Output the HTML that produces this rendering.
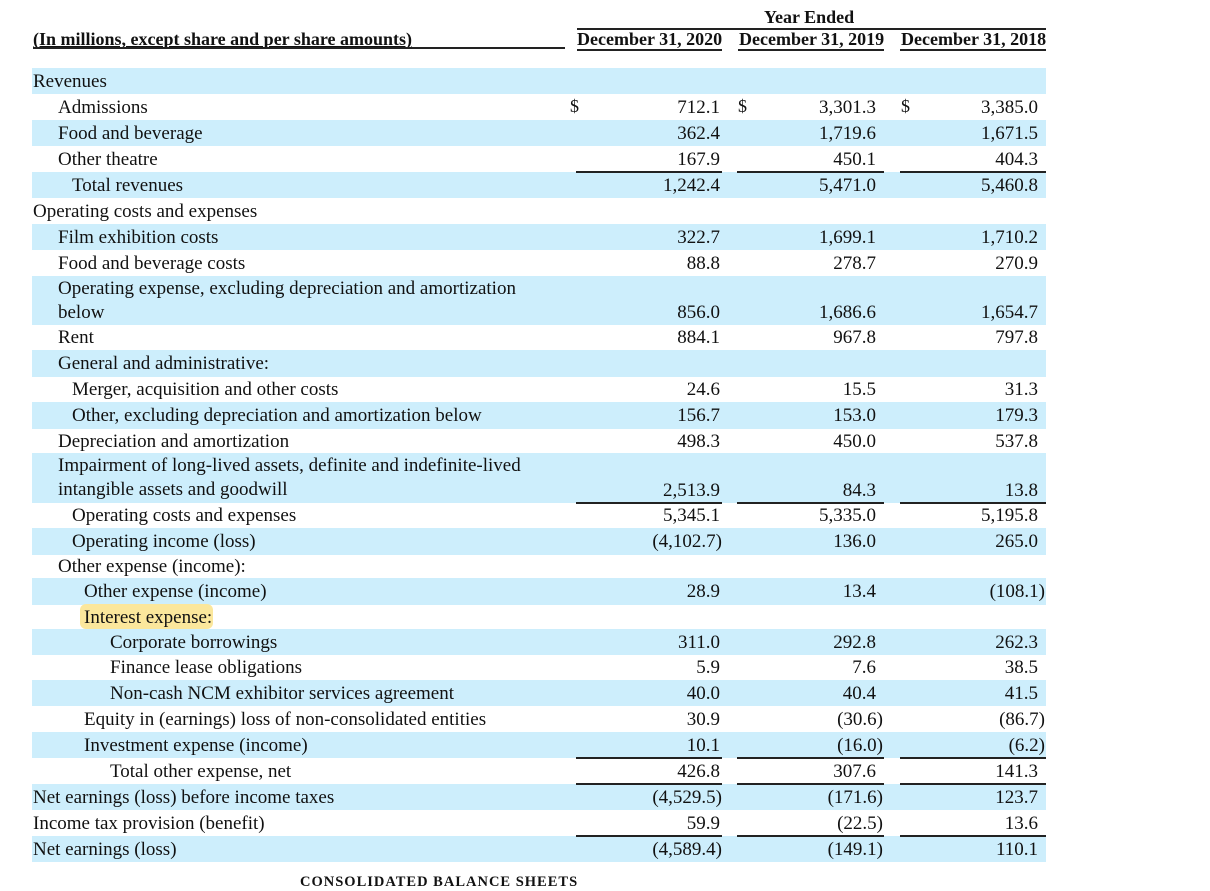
<!DOCTYPE html>
<html><head><meta charset="utf-8">
<style>
html,body{margin:0;padding:0;background:#fff;}
body{width:1210px;height:884px;position:relative;overflow:hidden;font-family:"Liberation Serif",serif;color:#111;}
.abs{position:absolute;white-space:nowrap;}
.row{position:absolute;left:32px;width:1014px;}
.blue{background:#cdeefc;}
.lbl{position:absolute;font-size:19px;line-height:25px;white-space:nowrap;}
.num{position:absolute;font-size:19px;line-height:25px;text-align:right;}
.dol{position:absolute;font-size:18px;line-height:25px;}
.hl{position:absolute;background:#fbe79c;border-radius:6px;}
.ln{position:absolute;height:1.5px;background:#222;}
.b{font-weight:bold;font-size:18px;}
</style></head><body>
<div class="abs b" style="left:33px;top:29px;text-decoration:underline;">(In millions, except share and per share amounts)</div>
<div class="ln" style="left:33px;top:47px;width:532px;"></div>
<div class="abs b" style="left:764px;top:7px;">Year Ended</div>
<div class="ln" style="left:577px;top:28px;width:469px;"></div>
<div class="abs b" style="left:577px;top:29px;">December 31, 2020</div>
<div class="abs b" style="left:739px;top:29px;">December 31, 2019</div>
<div class="abs b" style="left:901px;top:29px;">December 31, 2018</div>
<div class="ln" style="left:577px;top:49px;width:145px;"></div>
<div class="ln" style="left:738px;top:49px;width:146px;"></div>
<div class="ln" style="left:900px;top:49px;width:146px;"></div>
<div id="tbl"></div>
<div class="abs" style="left:300px;top:874px;font-size:14.5px;font-weight:bold;letter-spacing:1px;">CONSOLIDATED BALANCE SHEETS</div>
<script>
const labels=["Revenues","Admissions","Food and beverage","Other theatre","Total revenues","Operating costs and expenses","Film exhibition costs","Food and beverage costs","Operating expense, excluding depreciation and amortization|below","Rent","General and administrative:","Merger, acquisition and other costs","Other, excluding depreciation and amortization below","Depreciation and amortization","Impairment of long-lived assets, definite and indefinite-lived|intangible assets and goodwill","Operating costs and expenses","Operating income (loss)","Other expense (income):","Other expense (income)","Interest expense:","Corporate borrowings","Finance lease obligations","Non-cash NCM exhibitor services agreement","Equity in (earnings) loss of non-consolidated entities","Investment expense (income)","Total other expense, net","Net earnings (loss) before income taxes","Income tax provision (benefit)","Net earnings (loss)"];
const indents=[33,58,58,58,72,33,58,58,58,58,58,72,72,58,58,72,72,58,84,84,110,110,110,84,84,110,33,33,33];
const v2020=["","712.1","362.4","167.9","1,242.4","","322.7","88.8","856.0","884.1","","24.6","156.7","498.3","2,513.9","5,345.1","(4,102.7)","","28.9","","311.0","5.9","40.0","30.9","10.1","426.8","(4,529.5)","59.9","(4,589.4)"];
const v2019=["","3,301.3","1,719.6","450.1","5,471.0","","1,699.1","278.7","1,686.6","967.8","","15.5","153.0","450.0","84.3","5,335.0","136.0","","13.4","","292.8","7.6","40.4","(30.6)","(16.0)","307.6","(171.6)","(22.5)","(149.1)"];
const v2018=["","3,385.0","1,671.5","404.3","5,460.8","","1,710.2","270.9","1,654.7","797.8","","31.3","179.3","537.8","13.8","5,195.8","265.0","","(108.1)","","262.3","38.5","41.5","(86.7)","(6.2)","141.3","123.7","13.6","110.1"];
const rowTops=[68,94,120,146,172,198,224,250,276,325,350,377,402,429,453,503,528,555,578,605,629,655,680,706,732,758,784,810,836,862];
const rulesAbove=[4,15,25,26,28];
const tbl=document.getElementById('tbl');
const colRight=[722,884,1046];
const numRight=[720,876,1038];
const parenRight=[722,883,1045];
const colLeft=[576,737,900];
const dolLeft=[570,738,901];
labels.forEach((lab,i)=>{
  const top=rowTops[i],h=rowTops[i+1]-top;
  const r=document.createElement('div');
  
  
  r.className='row'+(i%2===0?' blue':'');
  r.style.top=top+'px';r.style.height=h+'px';
  tbl.appendChild(r);
  const parts=lab.split('|');
  if(i===19){const hl=document.createElement('div');hl.className='hl';
    
    
    hl.style.cssText='left:48px;top:-1px;width:133px;height:25px;';r.appendChild(hl);}
  parts.forEach((p,k)=>{
    const l=document.createElement('div');l.className='lbl';
    
    
    l.textContent=p;l.style.left=(indents[i]-32)+'px';l.style.top=(k*24+(parts.length>1?0:(h-25)/2))+'px';r.appendChild(l);
  });
  [v2020,v2019,v2018].forEach((arr,c)=>{
    const v=arr[i];if(!v)return;
    const n=document.createElement('div');n.className='num';
    
    
    n.textContent=v;
    const paren=v.endsWith(')');
    const rx=paren?parenRight[c]:numRight[c];
    n.style.right=(1046-rx)+'px';
    n.style.top=(h-25)-(parts.length>1?0:(h-25)/2)+'px';
    r.appendChild(n);
    if(i===1){const d=document.createElement('div');d.className='dol';
      
      
      d.textContent='$';d.style.left=(dolLeft[c]-32)+'px';d.style.top='0px';r.appendChild(d);}
  });
});
rulesAbove.forEach(i=>{
  colLeft.forEach((x,c)=>{
    const ln=document.createElement('div');ln.className='ln';
    
    
    ln.style.left=x+'px';ln.style.top=(rowTops[i]-1)+'px';ln.style.width=(colRight[c]-x)+'px';
    document.body.appendChild(ln);
  });
});
</script>
</body></html>
